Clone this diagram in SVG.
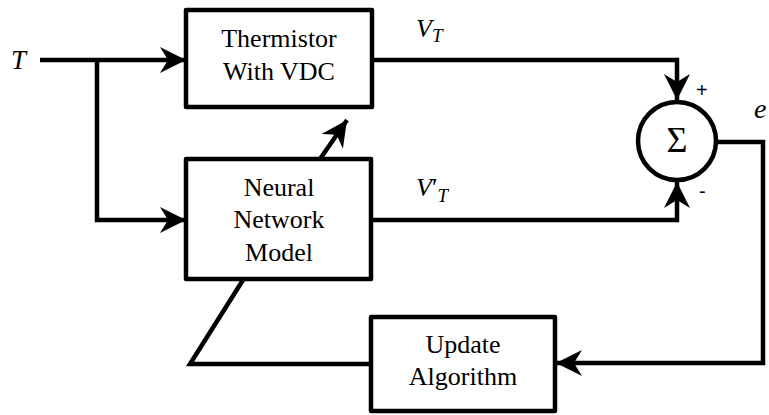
<svg xmlns="http://www.w3.org/2000/svg" width="769" height="415" viewBox="0 0 769 415">
<style>
.box{fill:#fff;stroke:#000;stroke-width:4.5;stroke-linejoin:round}
.ln{fill:none;stroke:#000;stroke-width:4.5;stroke-linejoin:miter}
.t{font-family:'Liberation Serif','Times New Roman',serif;font-size:26px;text-anchor:middle}
.m{font-family:'Liberation Serif','Times New Roman',serif;font-style:italic}
</style>
<defs>
<marker id="ah" viewBox="0 0 26 26" refX="26" refY="13" markerWidth="26" markerHeight="26" markerUnits="userSpaceOnUse" orient="auto">
<path d="M0,0 L26,13 L0,26 L8,13 Z" fill="#000"/>
</marker>
</defs>
<g id="connectors">
<path class="ln" d="M40,60 H186" marker-end="url(#ah)"/>
<path class="ln" d="M97,60 V220 H186" marker-end="url(#ah)"/>
<path class="ln" d="M372,60 H677 V100" marker-end="url(#ah)"/>
<path class="ln" d="M371,220 H677 V182" marker-end="url(#ah)"/>
<path class="ln" d="M320,159 L347,120" marker-end="url(#ah)"/>
<path class="ln" d="M716,142 H763 V363 H556" marker-end="url(#ah)"/>
<path class="ln" d="M243,280 L190,364 H371"/>
</g>
<g id="thermistor">
<rect class="box" x="186" y="10" width="186" height="97"/>
<text class="t" x="279" y="47">Thermistor</text>
<text class="t" x="279" y="80">With VDC</text>
</g>
<g id="neural">
<rect class="box" x="186" y="159" width="185" height="120"/>
<text class="t" x="279" y="196">Neural</text>
<text class="t" x="279" y="228">Network</text>
<text class="t" x="279" y="261">Model</text>
</g>
<g id="update">
<rect class="box" x="371" y="317" width="184" height="94"/>
<text class="t" x="463" y="353">Update</text>
<text class="t" x="463" y="385">Algorithm</text>
</g>
<g id="sum">
<circle cx="677" cy="141" r="39" fill="#fff" stroke="#000" stroke-width="4.5"/>
<text class="t" x="677" y="152" style="font-size:36px">Σ</text>
<text x="696" y="97" font-family="'Liberation Sans',Arial,sans-serif" font-size="20">+</text>
<text x="699" y="198" font-family="'Liberation Sans',Arial,sans-serif" font-size="20">-</text>
</g>
<g id="labels">
<text class="m" x="11" y="69" font-size="27">T</text>
<text class="m" x="416" y="37" font-size="26">V<tspan font-size="19" dy="5">T</tspan></text>
<text class="m" x="416" y="196" font-size="26">V<tspan font-style="normal">′</tspan><tspan font-size="19" dy="6">T</tspan></text>
<text class="m" x="754" y="118" font-size="28">e</text>
</g>
</svg>
